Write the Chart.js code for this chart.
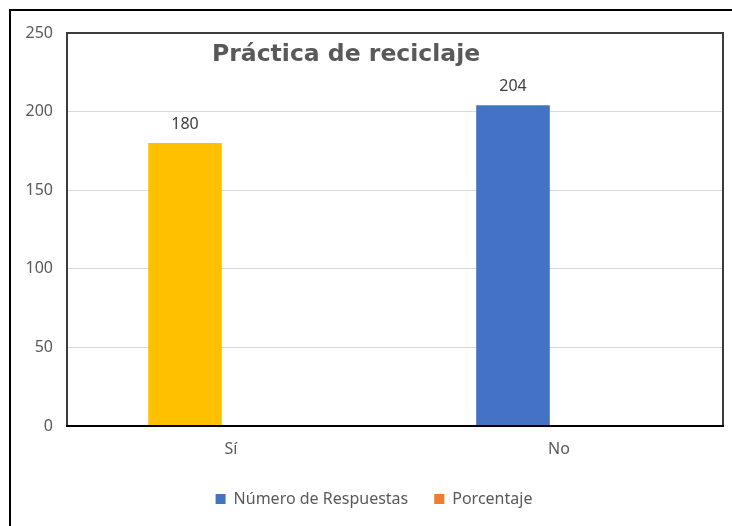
<!DOCTYPE html>
<html>
<head>
<meta charset="utf-8">
<script src="https://cdn.jsdelivr.net/npm/chart.js@4/dist/chart.umd.min.js"></script>
<style>
html,body{margin:0;padding:0;background:#fff;}
#wrap{position:relative;width:732px;height:526px;}
#frame{position:absolute;left:9px;top:9px;right:0;bottom:0;border-top:2px solid #000;border-left:2px solid #000;pointer-events:none;}
</style>
</head>
<body>
<div id="wrap">
<canvas id="c" width="732" height="526"></canvas>
<div id="frame"></div>
</div>
<script>
const categories = ['Sí', 'No'];
const respuestas = [180, 204];
const porcentaje = [0.47, 0.53];
const barColors = ['#FFC000', '#4472C4'];
const titleText = 'Práctica de reciclaje';
const seriesNames = ['Número de Respuestas', 'Porcentaje'];

const FONT = "'Noto Sans', 'Open Sans', sans-serif";

const framePlugin = {
  id: 'framePlugin',
  afterDatasetsDraw(chart) {
    const {ctx, chartArea: a} = chart;
    ctx.save();
    ctx.strokeStyle = '#3c3c3c';
    ctx.lineWidth = 2;
    ctx.strokeRect(a.left, a.top, a.right - a.left, a.bottom - a.top);
    ctx.strokeStyle = '#000';
    ctx.beginPath();
    ctx.moveTo(a.left - 1, a.bottom);
    ctx.lineTo(a.right + 1, a.bottom);
    ctx.stroke();
    // title inside plot area
    ctx.fillStyle = '#595959';
    ctx.font = "bold 23.5px 'DejaVu Sans', sans-serif";
    ctx.textAlign = 'left';
    ctx.textBaseline = 'alphabetic';
    ctx.fillText(titleText, 212, 61);
    // data labels for first dataset
    const meta = chart.getDatasetMeta(0);
    ctx.font = "16px " + FONT;
    ctx.fillStyle = '#404040';
    ctx.textAlign = 'center';
    meta.data.forEach((bar, i) => {
      ctx.fillText(String(respuestas[i]), bar.x, bar.y - 14);
    });
    ctx.restore();
  }
};

new Chart(document.getElementById('c'), {
  type: 'bar',
  data: {
    labels: categories,
    datasets: [
      {label: seriesNames[0], data: respuestas, backgroundColor: barColors, categoryPercentage: 0.561, barPercentage: 0.8},
      {label: seriesNames[1], data: porcentaje, backgroundColor: '#ED7D31', categoryPercentage: 0.561, barPercentage: 0.8}
    ]
  },
  options: {
    responsive: false,
    animation: false,
    layout: {padding: {left: 25, right: 9, top: 33, bottom: 15}},
    plugins: {
      title: {display: false},
      tooltip: {enabled: false},
      legend: {
        position: 'bottom',
        maxHeight: 46,
        labels: {
          boxWidth: 10, boxHeight: 10, padding: 26,
          font: {family: FONT, size: 16}, color: '#595959',
          generateLabels(chart) {
            return chart.data.datasets.map((ds, i) => ({
              text: ds.label,
              fillStyle: i === 0 ? '#4472C4' : '#ED7D31',
              strokeStyle: i === 0 ? '#4472C4' : '#ED7D31',
              lineWidth: 0,
              datasetIndex: i,
              fontColor: '#595959'
            }));
          }
        }
      }
    },
    scales: {
      x: {
        grid: {display: false, drawTicks: false},
        border: {display: false},
        ticks: {padding: 14, font: {family: FONT, size: 16}, color: '#595959'},
        afterFit(s) { s.height = 39; }
      },
      y: {
        min: 0, max: 250,
        ticks: {stepSize: 50, padding: 14, font: {family: FONT, size: 16}, color: '#595959'},
        grid: {color: '#d9d9d9', lineWidth: 1, drawTicks: false},
        border: {display: false},
        afterFit(s) { s.width = 42; }
      }
    }
  },
  plugins: [framePlugin]
});
</script>
</body>
</html>
